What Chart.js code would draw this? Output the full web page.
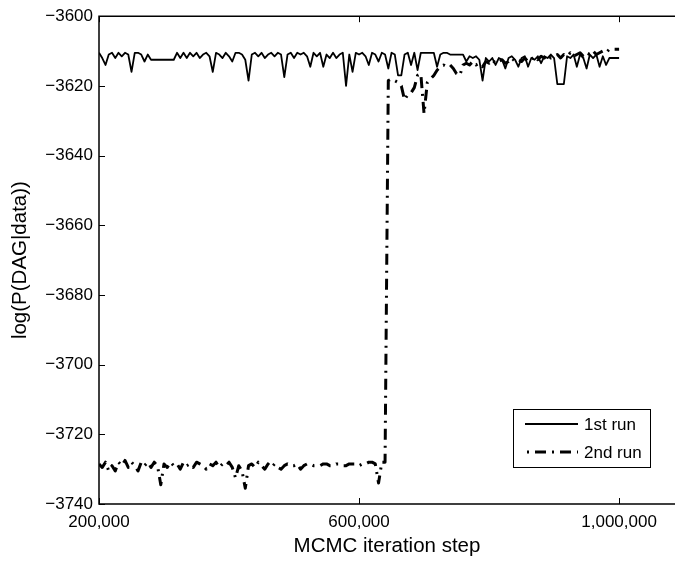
<!DOCTYPE html>
<html>
<head>
<meta charset="utf-8">
<title>MCMC runs</title>
<script src="https://cdn.jsdelivr.net/npm/chart.js"></script>
<style>
  html, body { margin: 0; padding: 0; background: #fff; }
</style>
</head>
<body>
<canvas id="mcmcChart" width="675" height="562"></canvas>

<script>
// x positions: iteration step, every 5,000 steps from 200,000 to 1,000,000
var steps = [];
for (var s = 200000; s <= 1000000; s += 5000) steps.push(s);

// log(P(DAG|data)) of the 1st run, one value per step above
var run1 = [
  -3610.5, -3612, -3614, -3611, -3610.5, -3612, -3610.5, -3611.5, -3610.5, -3611,
  -3616, -3610.5, -3610.5, -3611, -3613, -3611, -3612.5, -3612.5, -3612.5, -3612.5,
  -3612.5, -3612.5, -3612.5, -3612.5, -3610.5, -3612, -3610.5, -3612, -3610.5, -3611.5,
  -3610.5, -3612, -3611, -3610.5, -3611.5, -3616, -3610.5, -3611, -3612, -3610.5,
  -3611.5, -3613, -3610.5, -3610.5, -3611, -3612.5, -3618.5, -3611, -3610.5, -3611.5,
  -3610.5, -3612, -3611, -3610.5, -3611.5, -3610.5, -3611, -3617.5, -3611, -3610.5,
  -3612, -3610.5, -3611, -3610.5, -3611.5, -3614.5, -3610.5, -3611.5, -3610.5, -3614.5,
  -3611, -3612, -3610.5, -3612, -3611, -3610.5, -3620, -3611, -3616, -3610.5,
  -3611, -3610.5, -3611.5, -3614, -3610.5, -3611, -3613, -3610.5, -3611, -3615,
  -3610.5, -3611, -3617, -3617, -3611, -3610.5, -3614, -3610.5, -3615.5, -3610.5,
  -3610.5, -3610.5, -3610.5, -3610.5, -3614.5, -3611, -3610.5, -3610.5, -3611, -3611,
  -3611, -3611, -3611, -3613, -3611.5, -3612, -3611.5, -3612.5, -3618.5, -3612,
  -3613, -3612, -3614, -3612, -3612.5, -3615, -3612, -3611.5, -3612.5, -3614.5,
  -3612, -3611.5, -3614.5, -3612, -3612.5, -3611.5, -3613.5, -3611.5, -3612, -3611,
  -3612, -3619.5, -3619.5, -3619.5, -3611.5, -3612, -3611, -3614.5, -3611, -3612,
  -3615, -3611, -3612, -3611, -3614.5, -3611.5, -3614, -3612, -3612, -3612,
  -3612
];

// 2nd run, same steps
var run2 = [
  -3728.5, -3729.5, -3728, -3730.5, -3729, -3730.5, -3728, -3729, -3727.5, -3729.5,
  -3728, -3729, -3730.5, -3728, -3729, -3728, -3729.5, -3728, -3729, -3734.5,
  -3728.5, -3729.5, -3728, -3729, -3728.5, -3730, -3728, -3729, -3728.5, -3729.5,
  -3728, -3728.5, -3729, -3730, -3728.5, -3729, -3728, -3729.5, -3728.5, -3729,
  -3728, -3729.5, -3732.5, -3729, -3730.5, -3735.5, -3729, -3728.5, -3729.5, -3728,
  -3729, -3730, -3728.5, -3729.5, -3728.5, -3729.5, -3730, -3729, -3728.5, -3729,
  -3729, -3728.5, -3730, -3729, -3728.5, -3728.5, -3729, -3729, -3729, -3728.5,
  -3728.5, -3729, -3729, -3728.5, -3728.5, -3729, -3729, -3728.5, -3728.5, -3728.5,
  -3729, -3728.5, -3728.5, -3728, -3728, -3728.5, -3734, -3728, -3728, -3618.5,
  -3618, -3618.5, -3619, -3620, -3624, -3622.5, -3622, -3620.5, -3617, -3616.5,
  -3628, -3619, -3618, -3617, -3615.5, -3614.5, -3614, -3614.5, -3614, -3615,
  -3616.5, -3617, -3614, -3613.5, -3614, -3613, -3614, -3613.5, -3614.5, -3613,
  -3613.5, -3612.5, -3613.5, -3613, -3612.5, -3613.5, -3613, -3612, -3613, -3612.5,
  -3613, -3612, -3613, -3612.5, -3611.5, -3612.5, -3611.5, -3612, -3611, -3612,
  -3611.5, -3611, -3612, -3611, -3611.5, -3610.5, -3611.5, -3611, -3610.5, -3611.5,
  -3610.5, -3611, -3610, -3611, -3610.5, -3610, -3610.5, -3609.5, -3609.5, -3609.5,
  -3609.5
];

var seriesNames = ['1st run', '2nd run'];

var xTickValues = [200000, 600000, 1000000];
var xTickLabels = ['200,000', '600,000', '1,000,000'];
var yTickValues = [-3600, -3620, -3640, -3660, -3680, -3700, -3720, -3740];
var yTickLabels = ['\u22123600', '\u22123620', '\u22123640', '\u22123660', '\u22123680', '\u22123700', '\u22123720', '\u22123740'];

var FONT = "'Liberation Sans', Arial, Helvetica, sans-serif";

function toPoints(ys) {
  return ys.map(function (v, i) { return { x: steps[i], y: v }; });
}

// matlab-like box: left, top and bottom lines, inward ticks
var framePlugin = {
  id: 'frame',
  afterDatasetsDraw: function (chart) {
    var ctx = chart.ctx, a = chart.chartArea;
    var xs = chart.scales.x, ys = chart.scales.y;
    ctx.save();
    ctx.strokeStyle = '#000';
    ctx.lineWidth = 1.5;
    ctx.beginPath();
    ctx.moveTo(a.right + 2, a.top);
    ctx.lineTo(a.left, a.top);
    ctx.lineTo(a.left, a.bottom);
    ctx.lineTo(a.right + 2, a.bottom);
    ctx.stroke();
    ctx.lineWidth = 1;
    ctx.beginPath();
    xTickValues.forEach(function (v) {
      var px = Math.round(xs.getPixelForValue(v)) + 0.5;
      ctx.moveTo(px, a.bottom); ctx.lineTo(px, a.bottom - 6);
      ctx.moveTo(px, a.top); ctx.lineTo(px, a.top + 6);
    });
    yTickValues.forEach(function (v) {
      var py = Math.round(ys.getPixelForValue(v)) + 0.5;
      ctx.moveTo(a.left, py); ctx.lineTo(a.left + 6, py);
    });
    ctx.stroke();
    ctx.restore();
  }
};

var legendPlugin = {
  id: 'boxLegend',
  afterDraw: function (chart) {
    var ctx = chart.ctx;
    var box = { x: 513, y: 409, w: 137, h: 58 };
    ctx.save();
    ctx.fillStyle = '#fff';
    ctx.fillRect(box.x, box.y, box.w, box.h);
    ctx.strokeStyle = '#000';
    ctx.lineWidth = 1;
    ctx.strokeRect(box.x + 0.5, box.y + 0.5, box.w, box.h);
    chart.data.datasets.forEach(function (ds, i) {
      var ly = box.y + 15 + i * 28;
      ctx.strokeStyle = ds.borderColor;
      ctx.lineWidth = ds.borderWidth;
      ctx.setLineDash(ds.borderDash || []);
      ctx.lineDashOffset = i ? 15 : 0;
      ctx.beginPath();
      ctx.moveTo(525, ly);
      ctx.lineTo(578, ly);
      ctx.stroke();
      ctx.setLineDash([]);
      ctx.fillStyle = '#000';
      ctx.font = '17px ' + FONT;
      ctx.textBaseline = 'middle';
      ctx.fillText(ds.label, 584, ly + 1);
    });
    ctx.restore();
  }
};

var ctx = document.getElementById('mcmcChart').getContext('2d');
var chart = new Chart(ctx, {
  type: 'line',
  data: {
    datasets: [{
      label: seriesNames[0],
      data: toPoints(run1),
      borderColor: '#000',
      borderWidth: 1.8,
      borderJoinStyle: 'round',
      fill: false
    }, {
      label: seriesNames[1],
      data: toPoints(run2),
      borderColor: '#000',
      borderWidth: 3,
      borderDash: [11, 6, 2, 6],
      borderJoinStyle: 'round',
      fill: false
    }]
  },
  options: {
    responsive: false,
    animation: false,
    layout: { padding: { top: 14, right: 0, bottom: 0, left: 0 } },
    elements: { point: { radius: 0 }, line: { tension: 0 } },
    plugins: { legend: { display: false }, tooltip: { enabled: false } },
    scales: {
      x: {
        type: 'linear',
        min: 200000,
        max: 1086000,
        afterBuildTicks: function (scale) {
          scale.ticks = xTickValues.map(function (v) { return { value: v }; });
        },
        afterFit: function (scale) { scale.height = 58; },
        grid: { display: false, drawTicks: false },
        border: { display: false },
        ticks: {
          autoSkip: false,
          maxRotation: 0,
          padding: 8,
          color: '#000',
          font: { family: FONT, size: 17 },
          callback: function (v) { return xTickLabels[xTickValues.indexOf(v)]; }
        },
        title: {
          display: true,
          text: 'MCMC iteration step',
          color: '#000',
          font: { family: FONT, size: 20.5 },
          padding: { top: 0, bottom: 3 }
        }
      },
      y: {
        min: -3740,
        max: -3600,
        afterBuildTicks: function (scale) {
          scale.ticks = yTickValues.map(function (v) { return { value: v }; });
        },
        afterFit: function (scale) { scale.width = 99; },
        grid: { display: false, drawTicks: false },
        border: { display: false },
        ticks: {
          padding: 6,
          color: '#000',
          font: { family: FONT, size: 17 },
          callback: function (v) { return yTickLabels[yTickValues.indexOf(v)]; }
        },
        title: {
          display: true,
          text: 'log(P(DAG|data))',
          color: '#000',
          font: { family: FONT, size: 20.5 },
          padding: { top: 8, bottom: 0 }
        }
      }
    }
  },
  plugins: [framePlugin, legendPlugin]
});
</script>
</body>
</html>
